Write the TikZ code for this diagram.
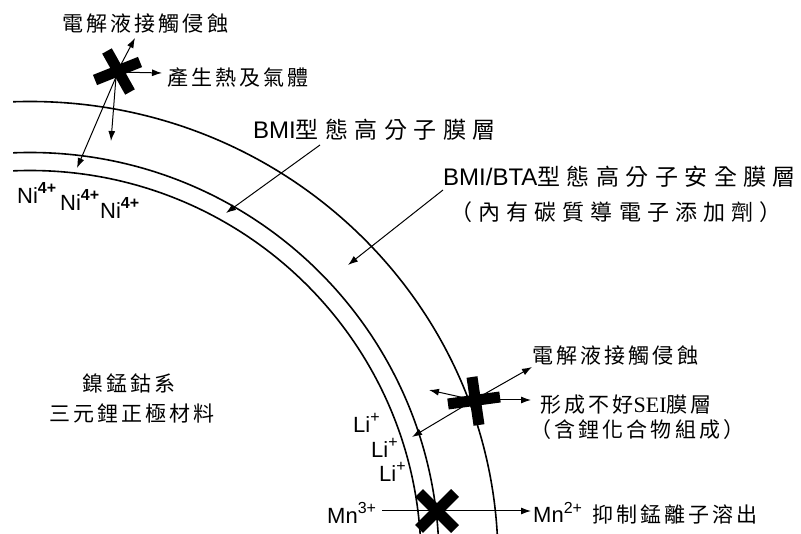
\documentclass[tikz,border=0pt]{standalone}
\usepackage{fontspec}
\setmainfont{Liberation Sans}
\newfontfamily\cjkA{Noto Sans CJK TC}[LetterSpace=15]
\newfontfamily\cjkB{Noto Sans CJK TC}[LetterSpace=28]
\newfontfamily\serifF{Liberation Serif}
\usetikzlibrary{arrows.meta}
\newcommand\supx[1]{\raisebox{0.42em}{\fontsize{16}{16}\selectfont #1}}
\newcommand\supb[1]{\raisebox{0.42em}{\fontsize{16}{16}\selectfont\bfseries #1}}
\tikzset{
  lbl/.style={inner sep=0pt, anchor=west},
  arr/.style={-{Latex[length=10pt,width=7pt]}, line width=1pt},
  crossbar/.style={line width=11pt, line cap=butt},
  layer/.style={line width=1.6pt},
  cjksmall/.style={font=\fontsize{21}{24}\cjkA},
  cjkbig/.style={font=\fontsize{22}{26}\cjkB},
  latin/.style={font=\fontsize{22}{26}\selectfont},
}
\begin{document}
\begin{tikzpicture}[x=1pt,y=-1pt]
\useasboundingbox (0,0) rectangle (801,534);
% layers
\begin{scope}
\clip (13,0) rectangle (801,534);
\draw[layer] (30,560) ellipse [x radius=468, y radius=458.5];
\draw[layer] (30,560) ellipse [x radius=409, y radius=407.5];
\draw[layer] (30,560) ellipse [x radius=391, y radius=389.5];
\end{scope}

% labels
\node[lbl,cjksmall] (t1) at (62,23) {電解液接觸侵蝕};
\node[lbl,cjksmall] (t2) at (167,78) {產生熱及氣體};
\node[lbl] (bmi) at (253,130) {{\fontsize{24}{26}\selectfont BMI}{\fontsize{23}{26}\cjkB 型態高分子膜層}};
\node[lbl] (bta) at (443,177) {{\fontsize{24}{26}\selectfont BMI/BTA}{\fontsize{23}{26}\cjkB 型態高分子安全膜層}};
\node[lbl,cjkbig] (bta2) at (450,212) {（內有碳質導電子添加劑）};
\node[lbl,latin] (ni1) at (17,193) {Ni\supb{4+}};
\node[lbl,latin] (ni2) at (60,200) {Ni\supb{4+}};
\node[lbl,latin] (ni3) at (100,208) {Ni\supb{4+}};
\node[cjksmall,inner sep=0pt] (m1) at (129,383) {鎳錳鈷系};
\node[cjksmall,inner sep=0pt] (m2) at (132,413) {三元鋰正極材料};
\node[lbl,cjksmall] (s1) at (532,355) {電解液接觸侵蝕};
\node[lbl] (s2) at (540,405) {{\fontsize{21}{24}\cjkA 形成不好}{\fontsize{22}{24}\serifF SEI}{\fontsize{21}{24}\cjkA 膜層}};
\node[lbl,cjksmall] (s3) at (530,430) {（含鋰化合物組成）};
\node[lbl,latin] (li1) at (353,423) {Li\supx{+}};
\node[lbl,latin] (li2) at (371,448) {Li\supx{+}};
\node[lbl,latin] (li3) at (379,472) {Li\supx{+}};
\node[lbl,latin] (mn3) at (327,513) {Mn\supx{3+}};
\node[lbl] (mn2) at (533,513) {{\fontsize{22}{26}\selectfont Mn\supx{2+}}\hspace{10pt}{\fontsize{21}{24}\cjkA 抑制錳離子溶出}};

% cross centres and arrow ends
\coordinate (c1) at (117,72);
\coordinate (c1b) at (116,77);
\coordinate (e1a) at (135,38);
\coordinate (e1b) at (162,73);
\coordinate (e1c) at (111,141);
\coordinate (e1d) at (77,168);
\coordinate (c2) at (474,400);
\coordinate (e2a) at (532,367);
\coordinate (e2b) at (531,400);
\coordinate (e2c) at (429,390);
\coordinate (e2d) at (412,437);
\coordinate (mnA) at (382,511);
\coordinate (mnB) at (531,511);
\coordinate (bmiA) at (320,145);
\coordinate (bmiB) at (226,213);
\coordinate (btaA) at (443,190);
\coordinate (btaB) at (348,265);

% arrows
\draw[arr] (c1) -- (e1a);
\draw[arr] (c1) -- (e1b);
\draw[arr] (c1b) -- (e1c);
\draw[arr] (c1b) -- (e1d);
\draw[arr] (c2) -- (e2a);
\draw[arr] (c2) -- (e2b);
\draw[arr] (c2) -- (e2c);
\draw[arr] (c2) -- (e2d);
\draw[arr] (mnA) -- (mnB);
\draw[arr] (bmiA) -- (bmiB);
\draw[arr] (btaA) -- (btaB);

% crosses
\draw[crossbar] (107,51) -- (130,92);
\draw[crossbar] (95,80) -- (140,62);
\draw[crossbar] (472,377) -- (479,425);
\draw[crossbar] (448,404) -- (500,397);
\draw[crossbar] (419,493) -- (455,529);
\draw[crossbar] (455,493) -- (419,529);
\end{tikzpicture}
\end{document}
